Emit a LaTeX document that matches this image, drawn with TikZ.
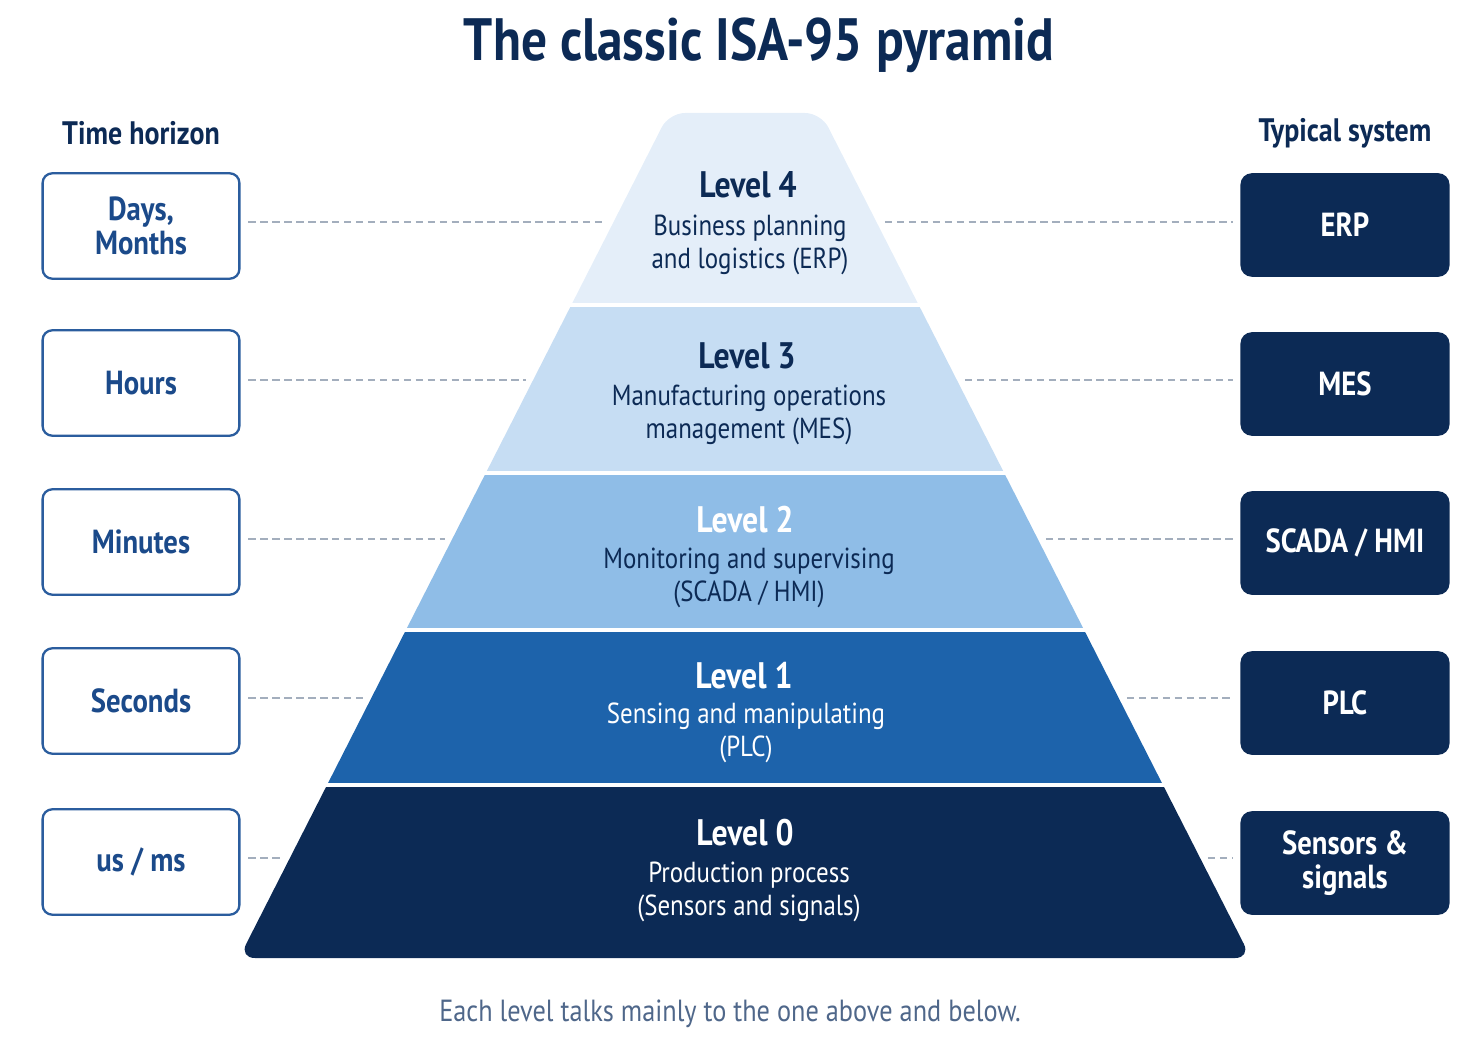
\documentclass[tikz,border=0pt]{standalone}
\usepackage{fontspec}
\setmainfont{PT Sans}[FakeStretch=0.86]
\definecolor{navy}{HTML}{0C2A55}
\definecolor{boxblue}{HTML}{2B5D9E}
\definecolor{boxtext}{HTML}{1B4A8A}
\definecolor{bandfour}{HTML}{E4EEF9}
\definecolor{bandthree}{HTML}{C6DDF3}
\definecolor{bandtwo}{HTML}{8FBDE7}
\definecolor{bandone}{HTML}{1D63AB}
\definecolor{dashgray}{HTML}{A3AEBD}
\definecolor{foot}{HTML}{4F678A}
\tikzset{
 tbox/.style={draw=boxblue,line width=1.3pt,rounded corners=5.5pt,fill=white,minimum width=112pt,minimum height=60pt,align=center,text=boxtext,font=\bfseries\fontsize{19}{19}\selectfont},
 sbox/.style={fill=navy,rounded corners=6.5pt,minimum width=119pt,minimum height=59pt,align=center,text=white,font=\bfseries\fontsize{19}{19.5}\selectfont},
 guide/.style={draw=dashgray,line width=1.2pt,dash pattern=on 4.2pt off 2.6pt,shorten <=4.5pt,shorten >=4pt},
 head/.style={text=navy,font=\bfseries\fontsize{18.5}{20}\selectfont},
 lvl/.style={font=\bfseries\fontsize{21}{24}\selectfont},
 lvltxt/.style={align=center,font=\fontsize{16.5}{18.7}\selectfont}
}
\begin{document}
\begin{tikzpicture}[x=0.02cm,y=-0.02cm]
\useasboundingbox (0,0) rectangle (1478,1064);
\node[text=navy,font=\bfseries\fontsize{34}{36}\selectfont] (title) at (759,45) {The classic ISA-95 pyramid};
\node[head] (thead) at (141,133) {Time horizon};
\node[head] (shead) at (1345,133) {Typical system};
\begin{scope}
 \clip[rounded corners=9pt] (239,958) -- (669,113) -- (821,113) -- (1251,958) -- cycle;
 \fill[bandfour] (200,100) rectangle (1300,303);
 \fill[bandthree] (200,307) rectangle (1300,471);
 \fill[bandtwo] (200,475) rectangle (1300,628);
 \fill[bandone] (200,632) rectangle (1300,783);
 \fill[navy] (200,787) rectangle (1300,970);
\end{scope}
\node[lvl,text=navy] (l4) at (748,185) {Level 4};
\node[lvltxt,text=navy] (l4t) at (750,245) {Business planning\\and logistics (ERP)};
\node[lvl,text=navy] (l3) at (747,356) {Level 3};
\node[lvltxt,text=navy] (l3t) at (749,415) {Manufacturing operations\\management (MES)};
\node[lvl,text=white] (l2) at (745,520) {Level 2};
\node[lvltxt,text=navy] (l2t) at (749,578) {Monitoring and supervising\\(SCADA / HMI)};
\node[lvl,text=white] (l1) at (744,676) {Level 1};
\node[lvltxt,text=white] (l1t) at (746,733) {Sensing and manipulating\\(PLC)};
\node[lvl,text=white] (l0) at (745,833) {Level 0};
\node[lvltxt,text=white] (l0t) at (749,892) {Production process\\(Sensors and signals)};
\node[tbox] (t4) at (141,226) {Days,\\Months};
\node[tbox] (t3) at (141,383) {Hours};
\node[tbox] (t2) at (141,542) {Minutes};
\node[tbox] (t1) at (141,701) {Seconds};
\node[tbox] (t0) at (141,862) {us / ms};
\node[sbox] (s4) at (1345,225) {ERP};
\node[sbox] (s3) at (1345,384) {MES};
\node[sbox] (s2) at (1345,543) {SCADA / HMI};
\node[sbox] (s1) at (1345,703) {PLC};
\node[sbox] (s0) at (1345,863) {Sensors \&\\signals};
\coordinate (p4w) at (613,222); \coordinate (p4e) at (877,222);
\coordinate (p3w) at (533,380); \coordinate (p3e) at (957,380);
\coordinate (p2w) at (452,539); \coordinate (p2e) at (1038,539);
\coordinate (p1w) at (371,698); \coordinate (p1e) at (1119,698);
\coordinate (p0w) at (290,858); \coordinate (p0e) at (1200,858);
\foreach \i in {4,3,2,1,0} {
 \draw[guide] (t\i.east |- p\i w) -- (p\i w);
 \draw[guide] (p\i e) -- (s\i.west |- p\i e);
}
\node[text=foot,font=\fontsize{17.4}{20}\selectfont] (note) at (730,1014) {Each level talks mainly to the one above and below.};
\end{tikzpicture}
\end{document}
